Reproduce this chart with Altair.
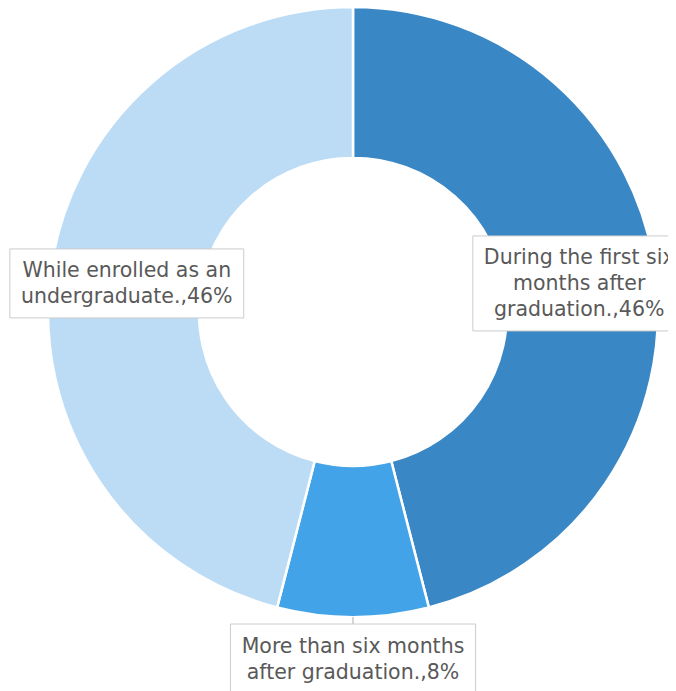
import altair as alt
import pandas as pd

# ---- data ----
categories = [
    "During the first six months after graduation.",
    "More than six months after graduation.",
    "While enrolled as an undergraduate.",
]
values = [46, 8, 46]
category_lines = [
    ["During the first six", "months after", "graduation."],
    ["More than six months", "after graduation."],
    ["While enrolled as an", "undergraduate."],
]
colors = ["#3a87c5", "#43a3e8", "#bcdcf6"]

# ---- style / layout constants ----
FONT = "DejaVu Sans"
FONT_SIZE = 20.5
LINE_H = 26
CX, CY = 345, 304
R_OUT, R_IN = 305, 154
R_LABEL, R_OUTSIDE = 228, 346.5

# approximate DejaVu Sans advance widths (em) for measuring label boxes
_W = {" ": .318, ",": .318, ".": .318, "%": .950, "D": .770, "M": .863, "W": .989,
      "a": .613, "b": .635, "c": .550, "d": .635, "e": .615, "f": .352, "g": .635,
      "h": .634, "i": .278, "l": .278, "m": .974, "n": .634, "o": .612, "r": .411,
      "s": .521, "t": .392, "u": .634, "x": .592, "v": .592}


def text_width(s):
    return sum(_W.get(ch, .636 if ch.isdigit() else .6) for ch in s) * FONT_SIZE


rows = []
for i, (cat, v, lines) in enumerate(zip(categories, values, category_lines)):
    lab = lines[:-1] + [f"{lines[-1]},{v}%"]
    rows.append({
        "category": cat,
        "value": v,
        "order": i,
        "label": "\n".join(lab),
        "nlines": len(lab),
        "tw": max(text_width(s) for s in lab),
    })
df = pd.DataFrame(rows)

arcs = alt.Chart(df).mark_arc(
    outerRadius=R_OUT, innerRadius=R_IN, stroke="white", strokeWidth=2.5
).encode(
    theta=alt.Theta("value:Q", stack=True),
    order=alt.Order("order:Q"),
    color=alt.Color("category:N", scale=alt.Scale(domain=categories, range=colors), legend=None),
    x=alt.value(CX),
    y=alt.value(CY),
)

base = alt.Chart(df).transform_joinaggregate(
    total="sum(value)"
).transform_window(
    cum="sum(value)", sort=[alt.SortField("order")], frame=[None, 0]
).transform_calculate(
    frac="datum.value / datum.total",
    mid="(datum.cum - datum.value / 2) / datum.total * 2 * PI",
    rl=f"datum.frac < 0.1 ? {R_OUTSIDE} : {R_LABEL}",
    cx=f"{CX} + datum.rl * sin(datum.mid)",
    cy=f"{CY} - datum.rl * cos(datum.mid)",
    ty=f"datum.cy - (datum.nlines - 1) * {LINE_H} / 2",
    bh=f"datum.nlines * {LINE_H} + 17",
    bw="datum.tw + 22",
    bx1="datum.cx - datum.bw / 2",
    bx2="datum.cx + datum.bw / 2",
    by1="datum.cy - datum.bh / 2",
    by2="datum.cy + datum.bh / 2",
    ex=f"{CX} + {R_OUT} * sin(datum.mid)",
    ey=f"{CY} - {R_OUT} * cos(datum.mid)",
)

connector = base.transform_filter("datum.frac < 0.1").mark_rule(
    color="#aaaaaa", strokeWidth=1
).encode(
    x=alt.X("ex:Q", scale=None, axis=None),
    y=alt.Y("ey:Q", scale=None, axis=None),
    x2="cx:Q",
    y2="by1:Q",
)

boxes = base.mark_rect(fill="white", stroke="#cccccc", strokeWidth=1).encode(
    x=alt.X("bx1:Q", scale=None, axis=None),
    x2="bx2:Q",
    y=alt.Y("by1:Q", scale=None, axis=None),
    y2="by2:Q",
)

texts = base.mark_text(
    font=FONT, fontSize=FONT_SIZE, lineHeight=LINE_H, lineBreak="\n",
    color="#595959", align="center", baseline="middle", dy=1,
).encode(
    x=alt.X("cx:Q", scale=None, axis=None),
    y=alt.Y("ty:Q", scale=None, axis=None),
    text="label:N",
)

chart = alt.layer(arcs, connector, boxes, texts).properties(
    width=660, height=683, padding=0, autosize=alt.AutoSizeParams(type="none")
).configure_view(stroke=None)

chart.save("out.html", embed_options={"renderer": "svg", "actions": False})
